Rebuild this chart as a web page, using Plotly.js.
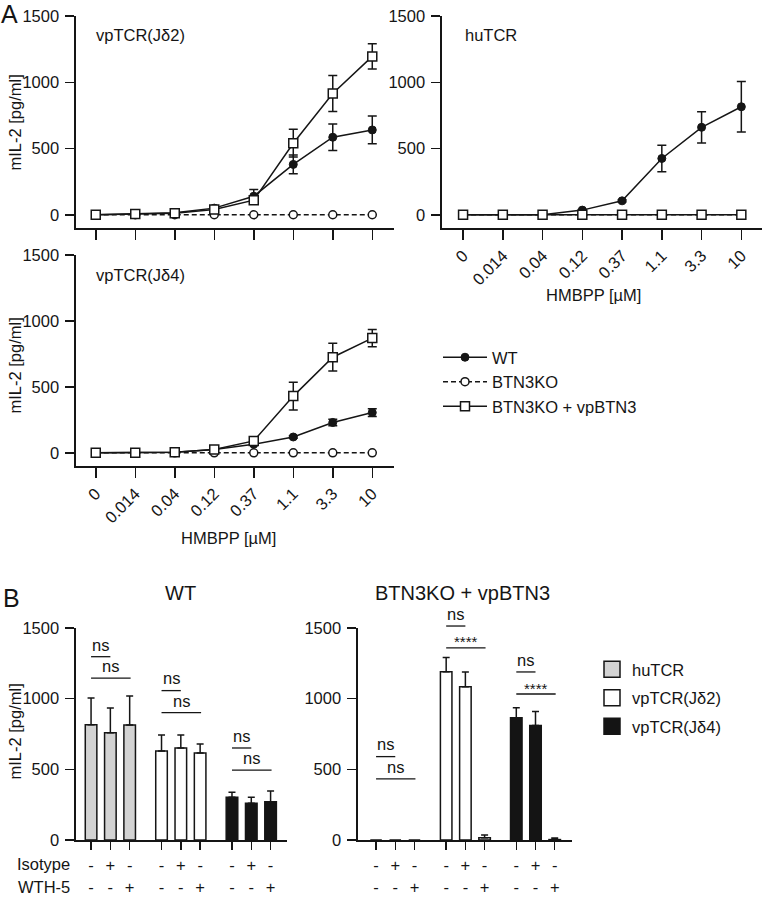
<!DOCTYPE html>
<html><head><meta charset="utf-8">
<script src="https://cdn.plot.ly/plotly-3.0.1.min.js"></script>
<style>html,body{margin:0;padding:0;background:#fff}#chart{width:762px;height:898px}</style>
</head><body><div id="chart"></div>
<script>
// ---------- DATA ----------
const conc = ['0','0.014','0.04','0.12','0.37','1.1','3.3','10'];
const seriesNames = ['WT','BTN3KO','BTN3KO + vpBTN3'];
const panelTitles = ['vpTCR(Jδ2)','huTCR','vpTCR(Jδ4)'];

// vpTCR(Jδ2)
const jd2_wt = [0, 5, 15, 50, 140, 380, 585, 640];
const jd2_wt_err = [0, 0, 0, 5, 50, 70, 100, 105];
const jd2_ko = [0, 0, 0, 0, 0, 0, 0, 0];
const jd2_vp = [0, 5, 12, 40, 110, 540, 915, 1195];
const jd2_vp_err = [0, 0, 3, 5, 15, 105, 135, 95];
// huTCR
const hu_wt = [0, 0, 0, 35, 105, 425, 660, 815];
const hu_wt_err = [0, 0, 0, 5, 8, 100, 118, 190];
const hu_ko = [0, 0, 0, 0, 0, 0, 0, 0];
const hu_vp = [0, 0, 0, 0, 0, 0, 0, 0];
// vpTCR(Jδ4)
const jd4_wt = [0, 0, 5, 25, 65, 120, 230, 305];
const jd4_wt_err = [0, 0, 0, 3, 5, 10, 25, 30];
const jd4_ko = [0, 0, 0, 0, 0, 0, 0, 0];
const jd4_vp = [0, 0, 5, 25, 90, 430, 725, 870];
const jd4_vp_err = [0, 0, 0, 5, 20, 105, 105, 65];

// Panel B
const barGroups = ['huTCR','vpTCR(Jδ2)','vpTCR(Jδ4)'];
const isotype = ['-','+','-','-','+','-','-','+','-'];
const wth5    = ['-','-','+','-','-','+','-','-','+'];
const rowLabels = ['Isotype','WTH-5'];
const bTitles = ['WT','BTN3KO + vpBTN3'];
const wt_hu = [815, 758, 813],  wt_hu_err = [190, 176, 206];
const wt_jd2 = [630, 651, 615], wt_jd2_err = [113, 92, 64];
const wt_jd4 = [302, 260, 271], wt_jd4_err = [35, 42, 76];
const ko_hu = [0, 0, 0],        ko_hu_err = [0, 0, 0];
const ko_jd2 = [1191, 1085, 16], ko_jd2_err = [100, 104, 20];
const ko_jd4 = [865, 811, 3],   ko_jd4_err = [71, 99, 11];
const wtSig = [['ns','ns'],['ns','ns'],['ns','ns']];
const koSig = [['ns','ns'],['ns','****'],['ns','****']];

// ---------- LAYOUT HELPERS ----------
const W = 762, H = 898;
const px = x => x / W;
const py = y => 1 - y / H;
const INK = '#151515';
const FONT = 'Liberation Sans, Arial, Helvetica, sans-serif';
const FS = 16.5;

const traces = [];
function addLinePanel(xa, ya, wt, wtErr, ko, vp, vpErr, showLeg) {
  traces.push({x: conc, y: ko, xaxis: xa, yaxis: ya, type: 'scatter', mode: 'lines+markers',
    name: seriesNames[1], legend: 'legend', legendrank: 2, showlegend: showLeg, cliponaxis: false,
    line: {color: INK, width: 1.5, dash: '5px,3px'},
    marker: {symbol: 'circle', size: 8, color: '#fff', line: {color: INK, width: 1.5}}});
  traces.push({x: conc, y: wt, xaxis: xa, yaxis: ya, type: 'scatter', mode: 'lines+markers',
    name: seriesNames[0], legend: 'legend', legendrank: 1, showlegend: showLeg, cliponaxis: false,
    line: {color: INK, width: 1.5},
    marker: {symbol: 'circle', size: 8, color: INK, line: {color: INK, width: 1}},
    error_y: {type: 'data', array: wtErr, color: INK, thickness: 1.5, width: 4.5}});
  const vpTrace = {x: conc, y: vp, xaxis: xa, yaxis: ya, type: 'scatter', mode: 'lines+markers',
    name: seriesNames[2], legend: 'legend', legendrank: 3, showlegend: showLeg, cliponaxis: false,
    line: {color: INK, width: 1.5},
    marker: {symbol: 'square', size: 9, color: '#fff', line: {color: INK, width: 1.5}}};
  if (vpErr) vpTrace.error_y = {type: 'data', array: vpErr, color: INK, thickness: 1.5, width: 4.5};
  traces.push(vpTrace);
}
addLinePanel('x', 'y', jd2_wt, jd2_wt_err, jd2_ko, jd2_vp, jd2_vp_err, true);
addLinePanel('x2', 'y2', hu_wt, hu_wt_err, hu_ko, hu_vp, null, false);
addLinePanel('x3', 'y3', jd4_wt, jd4_wt_err, jd4_ko, jd4_vp, jd4_vp_err, false);

const barColors = ['#d3d3d3', '#ffffff', '#141414'];
const groupPos = [[0, 1, 2], [3.65, 4.65, 5.65], [7.3, 8.3, 9.3]];
function addBarPanel(xa, ya, sets) {
  sets.forEach((s, g) => {
    const hasErr = s[1].some(v => v > 0);
    traces.push({x: groupPos[g], y: s[0], xaxis: xa, yaxis: ya, type: 'bar', width: 0.6,
      name: barGroups[g], showlegend: false, cliponaxis: false,
      marker: {color: barColors[g], line: {color: INK, width: 1.5}},
      error_y: {visible: hasErr, type: 'data', symmetric: false, array: s[1], arrayminus: s[1].map(() => 0),
        color: INK, thickness: 1.5, width: 3.5}});
  });
}
addBarPanel('x4', 'y4', [[wt_hu, wt_hu_err], [wt_jd2, wt_jd2_err], [wt_jd4, wt_jd4_err]]);
addBarPanel('x5', 'y5', [[ko_hu, ko_hu_err], [ko_jd2, ko_jd2_err], [ko_jd4, ko_jd4_err]]);
// legend entries for panel B
barGroups.forEach((n, g) => {
  traces.push({x: [null], y: [null], xaxis: 'x4', yaxis: 'y4', type: 'scatter', mode: 'markers',
    name: n, legend: 'legend2', legendgroup: 'g' + g, showlegend: true,
    marker: {symbol: 'square', size: 16, color: barColors[g], line: {color: INK, width: 1.5}}});
});

const allPos = groupPos.flat();
const bTickText = isotype.map((v, i) => v + '<br>' + wth5[i]);

const axBase = {showline: true, linecolor: INK, linewidth: 1.6, ticks: 'outside', tickcolor: INK,
  tickwidth: 1.5, showgrid: false, zeroline: false, tickfont: {family: FONT, size: FS, color: INK}};
const yTicks = {tickvals: [0, 500, 1000, 1500], ticktext: ['0', '500', '1000', '1500'], ticklen: 9,
  ticklabelstandoff: 3};

const layout = {
  width: W, height: H, margin: {l: 0, r: 0, t: 0, b: 0}, paper_bgcolor: '#fff', plot_bgcolor: 'rgba(0,0,0,0)',
  font: {family: FONT, size: FS, color: INK},
  showlegend: true,
  xaxis: Object.assign({}, axBase, {domain: [px(76), px(394)], anchor: 'y', type: 'category',
    categoryarray: conc, range: [-0.5, 7.55], ticklen: 10, showticklabels: false}),
  yaxis: Object.assign({}, axBase, yTicks, {domain: [py(228), py(16)], anchor: 'x', range: [-100, 1500]}),
  xaxis2: Object.assign({}, axBase, {domain: [px(442), 1], anchor: 'y2', type: 'category',
    categoryarray: conc, range: [-0.53, 7.52], ticklen: 10, tickangle: -45}),
  yaxis2: Object.assign({}, axBase, yTicks, {domain: [py(228), py(16)], anchor: 'x2', range: [-100, 1500]}),
  xaxis3: Object.assign({}, axBase, {domain: [px(76), px(394)], anchor: 'y3', type: 'category',
    categoryarray: conc, range: [-0.5, 7.55], ticklen: 10, tickangle: -45}),
  yaxis3: Object.assign({}, axBase, yTicks, {domain: [py(466), py(255)], anchor: 'x3', range: [-100, 1500]}),
  xaxis4: Object.assign({}, axBase, {domain: [px(76), px(287)], anchor: 'y4', range: [-0.78, 10.15],
    tickvals: allPos, ticktext: bTickText, ticklen: 8, tickangle: 0, ticklabelstandoff: 2}),
  yaxis4: Object.assign({}, axBase, yTicks, {domain: [py(840), py(628)], anchor: 'x4', range: [0, 1500]}),
  xaxis5: Object.assign({}, axBase, {domain: [px(358), px(572)], anchor: 'y5', range: [-0.94, 10.2],
    tickvals: allPos, ticktext: bTickText, ticklen: 8, tickangle: 0, ticklabelstandoff: 2}),
  yaxis5: Object.assign({}, axBase, yTicks, {domain: [py(840), py(628)], anchor: 'x5', range: [0, 1500]}),
  legend: {x: px(438), y: py(340), xanchor: 'left', yanchor: 'top', bgcolor: 'rgba(0,0,0,0)',
    font: {family: FONT, size: FS, color: INK}, traceorder: 'normal', itemwidth: 44, itemclick: false},
  legend2: {x: px(592), y: py(652), xanchor: 'left', yanchor: 'top', bgcolor: 'rgba(0,0,0,0)',
    font: {family: FONT, size: FS, color: INK}, tracegroupgap: 4, itemclick: false},
  shapes: [], annotations: []
};

function ann(text, x, y, opts) {
  layout.annotations.push(Object.assign({text: text, x: px(x), y: py(y), xref: 'paper', yref: 'paper',
    xanchor: 'center', yanchor: 'middle', showarrow: false, font: {family: FONT, size: FS, color: INK}}, opts || {}));
}
// panel letters
ann('A', 9, 14, {font: {family: FONT, size: 25, color: INK}});
ann('B', 11, 598, {font: {family: FONT, size: 25, color: INK}});
// panel titles A
ann(panelTitles[0], 94, 35, {xanchor: 'left'});
ann(panelTitles[1], 463, 35, {xanchor: 'left'});
ann(panelTitles[2], 94, 275, {xanchor: 'left'});
// y titles
ann('mIL-2 [pg/ml]', 14.5, 123, {textangle: -90});
ann('mIL-2 [pg/ml]', 14.5, 366, {textangle: -90});
ann('mIL-2 [pg/ml]', 14.5, 732, {textangle: -90});
// x titles
ann('HMBPP [µM]', 593, 295);
ann('HMBPP [µM]', 228, 538);
// B titles
ann(bTitles[0], 180, 593, {font: {family: FONT, size: 20, color: INK}});
ann(bTitles[1], 463, 593, {font: {family: FONT, size: 20, color: INK}});
// row labels
ann(rowLabels[0], 72, 864, {xanchor: 'right'});
ann(rowLabels[1], 72, 887, {xanchor: 'right'});

// significance brackets (y in data units, via axis-domain refs)
const wtShort = [1297, 1057, 651], wtLong = [1146, 901, 495];
const koShort = [590, 1514, 1189], koLong = [432, 1359, 1033];
function addSig(xa, ya, sig, shortY, longY) {
  sig.forEach((labels, g) => {
    const p = groupPos[g];
    const yd = ya + ' domain';
    layout.shapes.push({type: 'line', xref: xa, yref: yd, x0: p[0], x1: p[1], y0: shortY[g] / 1500, y1: shortY[g] / 1500,
      line: {color: INK, width: 1.3}});
    layout.shapes.push({type: 'line', xref: xa, yref: yd, x0: p[0], x1: p[2] + 0.05, y0: longY[g] / 1500, y1: longY[g] / 1500,
      line: {color: INK, width: 1.3}});
    const off = t => (t === '****' ? 42 : 86);
    layout.annotations.push({text: labels[0], xref: xa, yref: yd, x: (p[0] + p[1]) / 2,
      y: (shortY[g] + off(labels[0])) / 1500, showarrow: false, xanchor: 'center', yanchor: 'middle',
      font: {family: FONT, size: labels[0] === '****' ? 15 : FS, color: INK}});
    layout.annotations.push({text: labels[1], xref: xa, yref: yd, x: (p[0] + p[2]) / 2 + 0.03,
      y: (longY[g] + off(labels[1])) / 1500, showarrow: false, xanchor: 'center', yanchor: 'middle',
      font: {family: FONT, size: labels[1] === '****' ? 15 : FS, color: INK}});
  });
}
addSig('x4', 'y4', wtSig, wtShort, wtLong);
addSig('x5', 'y5', koSig, koShort, koLong);

Plotly.newPlot('chart', traces, layout, {staticPlot: true, displayModeBar: false});
</script>
</body></html>
